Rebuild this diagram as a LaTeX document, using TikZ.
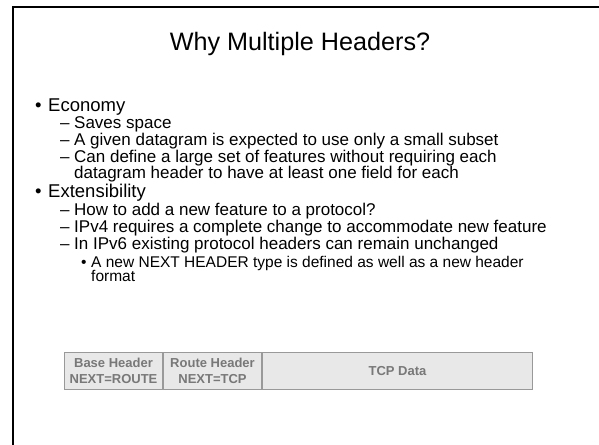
\documentclass[tikz,border=0pt]{standalone}
\usepackage{fontspec}
\setmainfont{Liberation Sans}
\usepackage{tikz}
\usetikzlibrary{positioning}
\usepackage{xcolor}
\definecolor{cellgray}{rgb}{0.91,0.91,0.91}
\definecolor{linegray}{rgb}{0.6,0.6,0.6}
\definecolor{textgray}{rgb}{0.47,0.47,0.47}

\tikzset{
  txt/.style={anchor=base west,inner sep=0pt},
  lvlone/.style={txt,font=\fontsize{18.5}{19}\selectfont},
  lvltwo/.style={txt,font=\fontsize{17}{17}\selectfont},
  lvlthree/.style={txt,font=\fontsize{15.5}{15.5}\selectfont},
  cell/.style={draw=linegray,fill=cellgray,line width=1pt,minimum height=37pt,
    inner sep=0pt,align=center,text=textgray,font=\fontsize{13}{16.5}\selectfont\bfseries}
}

\begin{document}
\begin{tikzpicture}[x=1pt,y=-1pt]
\useasboundingbox (0,0) rectangle (599,444);
% slide frame
\draw[line width=2pt] (13,450) -- (13,7) -- (610,7);

\node[anchor=base,inner sep=0pt,font=\fontsize{25.2}{26}\selectfont] (title) at (300,51) {Why Multiple Headers?};

% Economy
\node[lvlone] (b1) at (35,111) {\textbullet};
\node[lvlone] (econ) at (48,111) {Economy};
\node[lvltwo] (d1) at (60,128) {--};
\node[lvltwo] (space) at (74,128) {Saves space};
\node[lvltwo] (d2) at (60,145) {--};
\node[lvltwo] (subset) at (74,145) {A given datagram is expected to use only a small subset};
\node[lvltwo] (d3) at (60,162) {--};
\node[lvltwo] (define) at (74,162) {Can define a large set of features without requiring each};
\node[lvltwo] (field) at (74,178) {datagram header to have at least one field for each};

% Extensibility
\node[lvlone] (b2) at (35,197) {\textbullet};
\node[lvlone] (ext) at (48,197) {Extensibility};
\node[lvltwo] (d4) at (60,215) {--};
\node[lvltwo] (how) at (74,215) {How to add a new feature to a protocol?};
\node[lvltwo] (d5) at (60,232) {--};
\node[lvltwo] (ipv4) at (74,232) {IPv4 requires a complete change to accommodate new feature};
\node[lvltwo] (d6) at (60,249) {--};
\node[lvltwo] (ipv6) at (74,249) {In IPv6 existing protocol headers can remain unchanged};
\node[lvlthree] (b3) at (81,267) {\textbullet};
\node[lvlthree] (next) at (91,267) {A new NEXT HEADER type is defined as well as a new header};
\node[lvlthree] (format) at (91,281) {format};

% packet layout
\node[cell,minimum width=98pt,anchor=north west] (base) at (64,352) {Base Header\\NEXT=ROUTE};
\node[cell,minimum width=98pt,right=0pt of base] (route) {Route Header\\NEXT=TCP};
\node[cell,minimum width=270pt,right=0pt of route] (tcp) {TCP Data};
\end{tikzpicture}
\end{document}
